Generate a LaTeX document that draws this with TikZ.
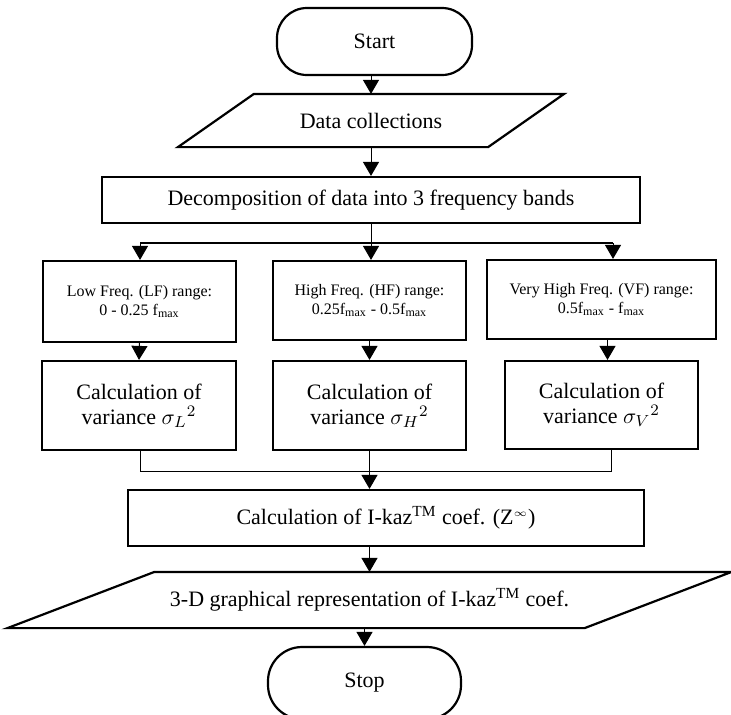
\documentclass[tikz,border=0pt]{standalone}
\usepackage{fontspec}
\setmainfont{Liberation Serif}
\usetikzlibrary{arrows.meta}

\begin{document}
\begin{tikzpicture}[x=0.5pt,y=-0.5pt,
  box/.style={draw,line width=1.1pt,inner sep=0pt,align=center,
    font=\fontsize{11}{12.5}\selectfont},
  term/.style={box,rounded corners=15pt},
  io/.style={box,draw=none},
  small/.style={box,font=\fontsize{8}{9.5}\selectfont},
  edge/.style={line width=1.1pt,line join=miter},
  arr/.style={line width=0.5pt,-{Triangle[width=8pt,length=7pt]}},
  link/.style={line width=0.5pt}]
  \clip (0,0) rectangle (731,714);

  % start, input, split
  \node[term,minimum width=97.5pt,minimum height=33.5pt] (start) at (374.5,41.5) {Start};
  \node[io,minimum width=154pt,minimum height=25.5pt] (data) at (371,120.5) {Data collections};
  \draw[edge] ([xshift=19pt]data.north west) -- ([xshift=19pt]data.north east)
    -- ([xshift=-19pt]data.south east) -- ([xshift=-19pt]data.south west) -- cycle;
  \node[box,minimum width=269pt,minimum height=23pt] (decomp) at (371,200)
    {Decomposition of data into 3 frequency bands};

  % the three bands
  \node[small,minimum width=96.5pt,minimum height=40.5pt] (lf) at (139.5,301.5)
    {Low Freq. (LF) range:\\ 0 - 0.25 f\textsubscript{max}};
  \node[small,minimum width=96.5pt,minimum height=39.5pt] (hf) at (369.5,300.5)
    {High Freq. (HF) range:\\ 0.25f\textsubscript{max} - 0.5f\textsubscript{max}};
  \node[small,minimum width=114.5pt,minimum height=39.5pt] (vf) at (601.5,299.5)
    {Very High Freq. (VF) range:\\ 0.5f\textsubscript{max} - f\textsubscript{max}};

  \node[box,minimum width=97pt,minimum height=44.5pt] (varL) at (139,405.5)
    {Calculation of\\ variance $\sigma_{L}{}^{2}$};
  \node[box,minimum width=96.5pt,minimum height=44.5pt] (varH) at (369.5,405.5)
    {Calculation of\\ variance $\sigma_{H}{}^{2}$};
  \node[box,minimum width=96.5pt,minimum height=44pt] (varV) at (601.5,405)
    {Calculation of\\ variance $\sigma_{V}{}^{2}$};

  % coefficient, plot, stop
  \node[box,minimum width=258pt,minimum height=28pt] (ikaz) at (386,518)
    {Calculation of I-kaz\textsuperscript{TM} coef. (Z\textsuperscript{$\scriptstyle\infty$})};
  \node[io,minimum width=287.5pt,minimum height=27pt] (plot) at (369.5,600)
    {3-D graphical representation of I-kaz\textsuperscript{TM} coef.};
  \draw[edge] ([xshift=36.75pt]plot.north west) -- ([xshift=36.75pt]plot.north east)
    -- ([xshift=-36.75pt]plot.south east) -- ([xshift=-36.75pt]plot.south west) -- cycle;
  \node[term,rounded corners=17pt,minimum width=96.5pt,minimum height=36pt] (stop) at (364.5,683) {Stop};

  % connectors
  \draw[arr] (start.south -| data.north) -- (data.north);
  \draw[arr] (data.south) -- (decomp.north);

  \coordinate (split) at (371,243);
  \coordinate (splitL) at (140,243);
  \coordinate (splitR) at (613,243);
  \draw[link] (decomp.south) -- (split);
  \draw[line width=1pt] (splitL) -- (splitR);
  \draw[arr] (splitL) -- (splitL |- lf.north);
  \draw[arr] (split) -- (split |- hf.north);
  \draw[arr] (splitR) -- (splitR |- vf.north);

  \draw[arr] (lf.south) -- (varL.north);
  \draw[arr] (hf.south) -- (varH.north);
  \draw[arr] ([xshift=3pt]vf.south) -- ([xshift=3pt]varV.north);

  \coordinate (joinL) at (140,471);
  \coordinate (joinR) at (611,471);
  \draw[link] (varL.south -| joinL) -- (joinL) -- (joinR) -- (varV.south -| joinR);
  \draw[arr] (varH.south) -- (varH.south |- ikaz.north);
  \draw[arr] (ikaz.south -| varH.south) -- (varH.south |- plot.north);
  \draw[arr] (stop.north |- plot.south) -- (stop.north);
\end{tikzpicture}
\end{document}
